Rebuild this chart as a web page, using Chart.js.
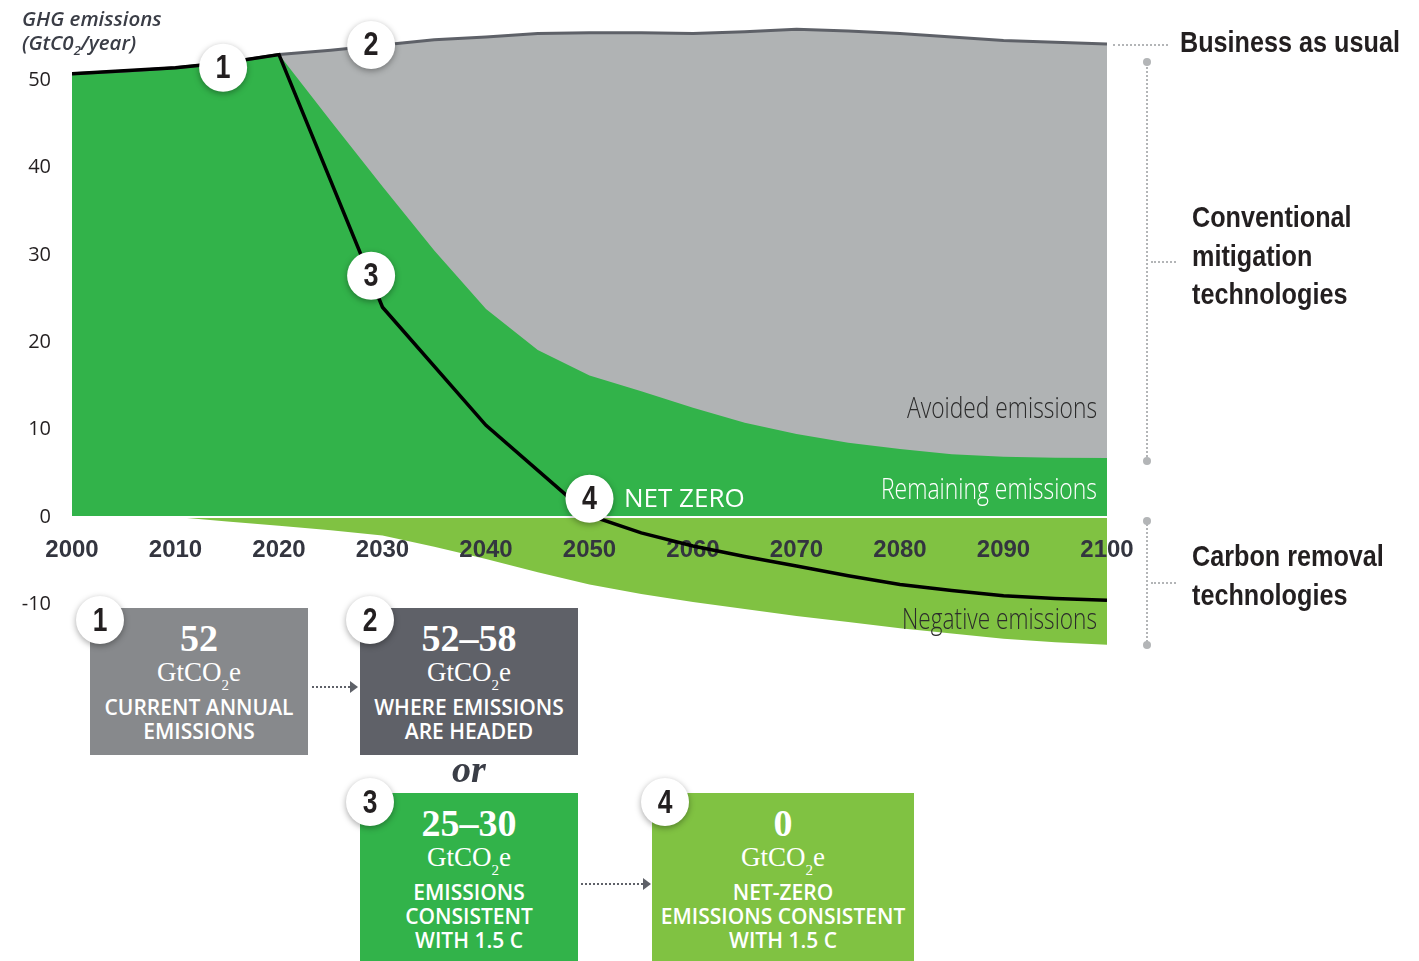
<!DOCTYPE html>
<html>
<head>
<meta charset="utf-8">
<script src="https://cdn.jsdelivr.net/npm/chart.js@4/dist/chart.umd.min.js"></script>
<style>
  body { margin: 0; background: #fff; }
  #wrap { position: relative; width: 1419px; height: 961px; overflow: hidden; }
  #wrap canvas { position: absolute; left: 0; top: 0; }
  .abs { position: absolute; }
  .title { left: 22px; top: 6px; font: italic 600 20.5px 'Open Sans', sans-serif; color: #3a3d46; line-height: 24px; white-space: nowrap; }
  .side { font: bold 30px 'Liberation Sans', sans-serif; color: #231f20; line-height: 38.5px; white-space: nowrap;
    transform: scaleX(0.84); transform-origin: 0 0; }
  .box { position: absolute; color: #fff; text-align: center; padding-top: 11px; box-sizing: border-box; }
  .big { font: bold 38px 'Liberation Serif', serif; line-height: 38px; }
  .unit { font: 27px 'Liberation Serif', serif; line-height: 30px; margin-bottom: 8px; }
  .unit sub { font-size: 15px; vertical-align: -9px; line-height: 0; }
  .cap { font: 600 21px 'Open Sans', sans-serif; line-height: 24px; white-space: nowrap; }
  .badge { position: absolute; width: 48px; height: 48px; border-radius: 50%; background: #fff;
    box-shadow: 0 2px 6px rgba(0,0,0,.35); font: bold 33px 'Liberation Sans', sans-serif;
    color: #231f20; text-align: center; line-height: 48px; }
  .badge span { display: inline-block; transform: scaleX(0.8); }
  .dotv { position: absolute; width: 0; border-left: 2px dotted #b3b5b7; }
  .doth { position: absolute; height: 0; border-top: 2px dotted #b3b5b7; }
  .cap-dot { position: absolute; width: 8px; height: 8px; border-radius: 50%; background: #b3b5b7; }
  .arrow { position: absolute; height: 0; border-top: 2px dotted #5e6168; }
  .arrow:after { content: ''; position: absolute; right: -8px; top: -7px; border-left: 8px solid #5e6168;
    border-top: 6px solid transparent; border-bottom: 6px solid transparent; }
</style>
</head>
<body>
<div id="wrap">
  <canvas id="chart"></canvas>

  <div class="abs title">GHG emissions<br>(GtC0<sub style="font-size:13px">2</sub>/year)</div>

  <div class="doth" style="left:1113px;top:44px;width:55px;"></div>
  <div class="abs side" style="left:1180px;top:23px;">Business as usual</div>

  <div class="dotv" style="left:1146px;top:62px;height:399px;"></div>
  <div class="cap-dot" style="left:1143px;top:58px;"></div>
  <div class="cap-dot" style="left:1143px;top:457px;"></div>
  <div class="doth" style="left:1151px;top:261px;width:25px;"></div>
  <div class="abs side" style="left:1192px;top:198px;">Conventional<br>mitigation<br>technologies</div>

  <div class="dotv" style="left:1146px;top:521px;height:124px;"></div>
  <div class="cap-dot" style="left:1143px;top:517px;"></div>
  <div class="cap-dot" style="left:1143px;top:641px;"></div>
  <div class="doth" style="left:1151px;top:582px;width:25px;"></div>
  <div class="abs side" style="left:1192px;top:537px;">Carbon removal<br>technologies</div>

  <div class="box" style="left:90px;top:608px;width:218px;height:147px;background:#87898c;">
    <div class="big">52</div>
    <div class="unit">GtCO<sub>2</sub>e</div>
    <div class="cap">CURRENT ANNUAL</div>
    <div class="cap">EMISSIONS</div>
  </div>
  <div class="box" style="left:360px;top:608px;width:218px;height:147px;background:#5f6168;">
    <div class="big">52–58</div>
    <div class="unit">GtCO<sub>2</sub>e</div>
    <div class="cap">WHERE EMISSIONS</div>
    <div class="cap">ARE HEADED</div>
  </div>
  <div class="box" style="left:360px;top:793px;width:218px;height:168px;background:#32b34a;">
    <div class="big">25–30</div>
    <div class="unit">GtCO<sub>2</sub>e</div>
    <div class="cap">EMISSIONS</div>
    <div class="cap">CONSISTENT</div>
    <div class="cap">WITH 1.5 C</div>
  </div>
  <div class="box" style="left:652px;top:793px;width:262px;height:168px;background:#80c242;">
    <div class="big">0</div>
    <div class="unit">GtCO<sub>2</sub>e</div>
    <div class="cap">NET-ZERO</div>
    <div class="cap">EMISSIONS CONSISTENT</div>
    <div class="cap">WITH 1.5 C</div>
  </div>

  <div class="arrow" style="left:312px;top:686px;width:38px;"></div>
  <div class="arrow" style="left:581px;top:883px;width:62px;"></div>
  <div class="abs" style="left:452px;top:750px;font:italic bold 38px 'Liberation Serif',serif;line-height:38px;color:#3a3d46;">or</div>

  <div class="badge" style="left:76px;top:596px;"><span>1</span></div>
  <div class="badge" style="left:346px;top:596px;"><span>2</span></div>
  <div class="badge" style="left:346px;top:778px;"><span>3</span></div>
  <div class="badge" style="left:641px;top:778px;"><span>4</span></div>
</div>

<script>
// ticks
var xTicks = [2000, 2010, 2020, 2030, 2040, 2050, 2060, 2070, 2080, 2090, 2100];
var yTicks = [-10, 0, 10, 20, 30, 40, 50];

// business as usual / remaining (conventional) / negative emissions, every 5 years
var years5 = [2000, 2005, 2010, 2015, 2020, 2025, 2030, 2035, 2040, 2045, 2050,
              2055, 2060, 2065, 2070, 2075, 2080, 2085, 2090, 2095, 2100];
var businessAsUsual = [50.7, 51.0, 51.4, 52.0, 52.9, 53.4, 54.0, 54.6, 54.9, 55.3, 55.4,
                       55.4, 55.3, 55.5, 55.8, 55.6, 55.3, 54.9, 54.5, 54.3, 54.1];
var remaining = [50.7, 51.0, 51.4, 52.0, 52.9, 45.3, 37.8, 30.5, 23.8, 19.1, 16.2,
                 14.4, 12.5, 10.8, 9.5, 8.5, 7.8, 7.2, 6.9, 6.8, 6.75];
var negative = [0, 0, 0, -0.5, -1.0, -1.5, -2.1, -3.4, -4.8, -6.3, -7.7,
                -8.8, -9.7, -10.5, -11.3, -12.0, -12.7, -13.3, -13.9, -14.3, -14.6];

// net emissions path (black line)
var netYears = [2000, 2010, 2015, 2020, 2030, 2040, 2050, 2055, 2060, 2065, 2070, 2075, 2080, 2085, 2090, 2095, 2100];
var netEmissions = [50.7, 51.4, 52.0, 52.9, 24.0, 10.5, 0.2, -1.8, -3.3, -4.5, -5.6, -6.7, -7.7, -8.4, -9.0, -9.3, -9.5];

var zeroYears = [2000, 2100];
var zeroLine = [0, 0];

var markers = [
  { label: '1', year: 2014.6, value: 51.4 },
  { label: '2', year: 2028.9, value: 54.0 },
  { label: '3', year: 2028.9, value: 27.6 },
  { label: '4', year: 2050.0, value: 2.1 }
];

function pts(xs, ys) {
  return xs.map(function (x, i) { return { x: x, y: ys[i] }; });
}

var annotations = {
  id: 'annotations',
  afterDraw: function (chart) {
    var ctx = chart.ctx;
    var xs = chart.scales.x, ys = chart.scales.y;
    ctx.save();

    // area labels, squeezed to the condensed width of the original
    ctx.textAlign = 'right';
    ctx.textBaseline = 'middle';
    ctx.font = "300 30px 'Open Sans', sans-serif";
    ctx.fillStyle = '#2b2b2b';
    ctx.fillText('Avoided emissions', 1097, 409, 190);
    ctx.fillStyle = '#ffffff';
    ctx.fillText('Remaining emissions', 1097, 490, 216);
    ctx.fillStyle = '#2b2b2b';
    ctx.fillText('Negative emissions', 1097, 620, 195);

    ctx.textAlign = 'left';
    ctx.fillStyle = '#ffffff';
    ctx.font = "26px 'Open Sans', sans-serif";
    ctx.fillText('NET ZERO', 624, 500, 121);

    markers.forEach(function (m) {
      var px = xs.getPixelForValue(m.year);
      var py = ys.getPixelForValue(m.value);
      ctx.save();
      ctx.shadowColor = 'rgba(0,0,0,0.35)';
      ctx.shadowBlur = 6;
      ctx.shadowOffsetY = 2;
      ctx.beginPath();
      ctx.arc(px, py, 24, 0, Math.PI * 2);
      ctx.fillStyle = '#ffffff';
      ctx.fill();
      ctx.restore();
      ctx.fillStyle = '#231f20';
      ctx.font = "bold 33px 'Liberation Sans', sans-serif";
      ctx.textAlign = 'center';
      ctx.textBaseline = 'middle';
      ctx.fillText(m.label, px, py + 1, 15);
    });
    ctx.restore();
  }
};

new Chart(document.getElementById('chart'), {
  type: 'line',
  data: {
    datasets: [
      { data: pts(netYears, netEmissions), borderColor: '#000000', borderWidth: 3.5, fill: false, tension: 0 },
      { data: pts(zeroYears, zeroLine), borderColor: '#ffffff', borderWidth: 2, fill: false },
      { data: pts(years5, remaining), borderWidth: 0, borderColor: 'rgba(0,0,0,0)', backgroundColor: '#32b34a', fill: 'origin', tension: 0 },
      { data: pts(years5, negative), borderWidth: 0, borderColor: 'rgba(0,0,0,0)', backgroundColor: '#80c242', fill: 'origin', tension: 0 },
      { data: pts(years5, businessAsUsual), borderColor: '#5e6168', borderWidth: 3, backgroundColor: '#b0b3b4', fill: 'origin', tension: 0 }
    ]
  },
  options: {
    responsive: true,
    maintainAspectRatio: false,
    animation: false,
    layout: { padding: { left: 0, top: 10, right: 312, bottom: 304 } },
    elements: { point: { radius: 0 } },
    plugins: {
      legend: { display: false },
      tooltip: { enabled: false },
      filler: { drawTime: 'beforeDraw' }
    },
    scales: {
      x: {
        type: 'linear',
        min: 2000,
        max: 2100,
        position: { y: 0 },
        grid: { display: false, drawTicks: false },
        border: { display: false },
        afterBuildTicks: function (s) { s.ticks = xTicks.map(function (v) { return { value: v }; }); },
        ticks: {
          padding: 19,
          color: '#33353f',
          font: { family: "'Liberation Sans', sans-serif", size: 24, weight: 'bold' },
          callback: function (v) { return String(v); }
        }
      },
      y: {
        min: -16,
        max: 58,
        grid: { display: false, drawTicks: false },
        border: { display: false },
        afterFit: function (s) { s.width = 72; s.paddingTop = 0; s.paddingBottom = 0; },
        afterBuildTicks: function (s) { s.ticks = yTicks.map(function (v) { return { value: v }; }); },
        ticks: {
          padding: 21,
          color: '#231f20',
          font: { family: "'Open Sans', sans-serif", size: 20 },
          callback: function (v) { return String(v); }
        }
      }
    }
  },
  plugins: [annotations]
});
</script>
</body>
</html>
